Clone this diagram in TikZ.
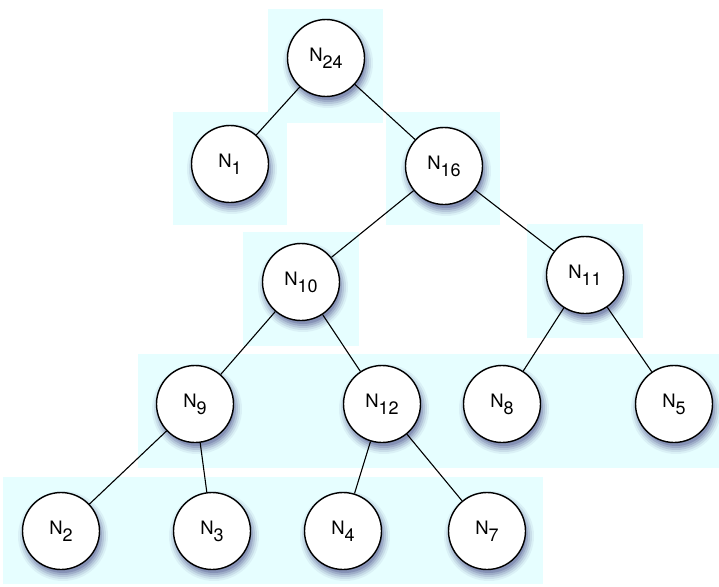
\documentclass[tikz,border=0pt]{standalone}
\usepackage{fontspec}
\setmainfont{TeX Gyre Heros}
\definecolor{bandcol}{RGB}{230,254,255}
\definecolor{shadowcol}{RGB}{40,40,110}
\newcommand\nlbl[1]{N\raisebox{-7pt}{\fontsize{18}{18}\selectfont #1}}
\tikzset{
  band/.style={fill=bandcol, draw=none},
  tnode/.style={circle, draw=black, line width=1.4pt, fill=white, minimum size=77pt, inner sep=0pt, font=\fontsize{18.5}{19}\selectfont},
  link/.style={draw=black, line width=1.1pt},
}
\newcommand\shad[1]{%
  \foreach \rr/\oo in {45/0.06,43/0.09,41/0.12,39/0.16,37/0.2}{%
    \fill[shadowcol, opacity=\oo] ([shift={(2,5)}]#1) circle (\rr);}}
\begin{document}
\begin{tikzpicture}[x=1pt,y=-1pt]
\useasboundingbox (0,0) rectangle (719,586);
% bands
\fill[band] (268,9) rectangle (383,123);
\fill[band] (173,112) rectangle (287,225);
\fill[band] (386,112) rectangle (500,225);
\fill[band] (243,232) rectangle (359,346);
\fill[band] (527,224) rectangle (643,338);
\fill[band] (138,354) rectangle (719,468);
\fill[band] (3,477) rectangle (543,584);
% positions
\coordinate (p24) at (326,58);
\coordinate (p1) at (230,164);
\coordinate (p16) at (444,166);
\coordinate (p10) at (301,282);
\coordinate (p11) at (585,275);
\coordinate (p9) at (195,404);
\coordinate (p12) at (382,404);
\coordinate (p8) at (502,404);
\coordinate (p5) at (674,404);
\coordinate (p2) at (61,531);
\coordinate (p3) at (212,531);
\coordinate (p4) at (343,531);
\coordinate (p7) at (487,531);
% shadows
\foreach \p in {p24,p1,p16,p10,p11,p9,p12,p8,p5,p2,p3,p4,p7}{\shad{\p}}
% nodes
\node[tnode] (n24) at (p24) {\nlbl{24}};
\node[tnode] (n1) at (p1) {\nlbl{1}};
\node[tnode] (n16) at (p16) {\nlbl{16}};
\node[tnode] (n10) at (p10) {\nlbl{10}};
\node[tnode] (n11) at (p11) {\nlbl{11}};
\node[tnode] (n9) at (p9) {\nlbl{9}};
\node[tnode] (n12) at (p12) {\nlbl{12}};
\node[tnode] (n8) at (p8) {\nlbl{8}};
\node[tnode] (n5) at (p5) {\nlbl{5}};
\node[tnode] (n2) at (p2) {\nlbl{2}};
\node[tnode] (n3) at (p3) {\nlbl{3}};
\node[tnode] (n4) at (p4) {\nlbl{4}};
\node[tnode] (n7) at (p7) {\nlbl{7}};
% links
\draw[link] (n24) -- (n1);
\draw[link] (n24) -- (n16);
\draw[link] (n16) -- (n10);
\draw[link] (n16) -- (n11);
\draw[link] (n10) -- (n9);
\draw[link] (n10) -- (n12);
\draw[link] (n11) -- (n8);
\draw[link] (n11) -- (n5);
\draw[link] (n9) -- (n2);
\draw[link] (n9) -- (n3);
\draw[link] (n12) -- (n4);
\draw[link] (n12) -- (n7);
\end{tikzpicture}
\end{document}
